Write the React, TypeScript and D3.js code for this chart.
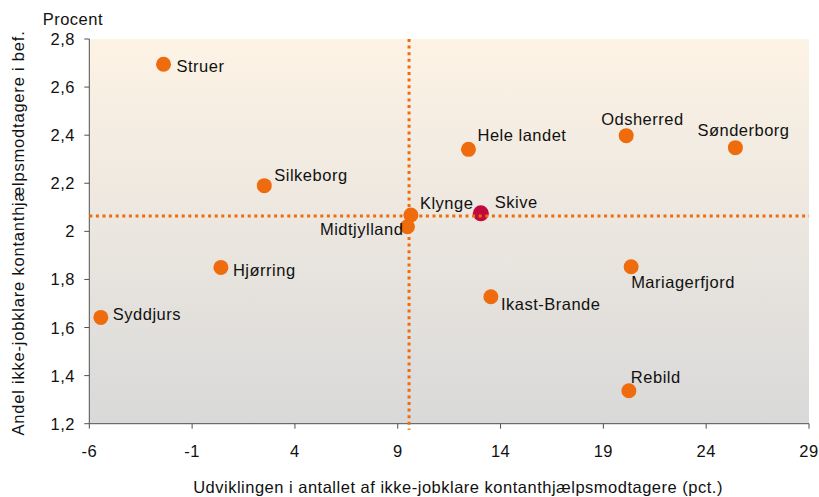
import React from 'react';
import * as d3 from 'd3';

const W = 819;
const H = 497;

// kommuner, udvikling (pct.) og andel (procent)
const names = ['Struer', 'Odsherred', 'Sønderborg', 'Hele landet', 'Silkeborg', 'Klynge', 'Skive',
  'Midtjylland', 'Hjørring', 'Mariagerfjord', 'Ikast-Brande', 'Syddjurs', 'Rebild'];
const growth = [-2.39, 20.11, 25.42, 12.44, 2.51, 9.64, 13.04, 9.47, 0.40, 20.35, 13.53, -5.44, 20.24];
const share = [2.695, 2.398, 2.348, 2.341, 2.190, 2.068, 2.075, 2.019, 1.850, 1.853, 1.728, 1.642, 1.337];

const xTicks = [-6, -1, 4, 9, 14, 19, 24, 29];
const yTicks = [1.2, 1.4, 1.6, 1.8, 2.0, 2.2, 2.4, 2.6, 2.8];

// reference lines (klyngens gennemsnit)
const refX = 9.55;
const refY = 2.064;

const highlight = 'Skive';

// label offsets from the dot: [dx, dy, anchor]
const labelPos: Record<string, [number, number, string]> = {
  'Struer': [13, 8, 'start'],
  'Odsherred': [-25, -11, 'start'],
  'Sønderborg': [-38, -12, 'start'],
  'Hele landet': [9, -8, 'start'],
  'Silkeborg': [10, -5, 'start'],
  'Klynge': [9, -6, 'start'],
  'Skive': [14, -5, 'start'],
  'Midtjylland': [-4, 8, 'end'],
  'Hjørring': [12, 9, 'start'],
  'Mariagerfjord': [0, 21, 'start'],
  'Ikast-Brande': [10, 13, 'start'],
  'Syddjurs': [12, 3, 'start'],
  'Rebild': [2, -8, 'start'],
};

const FONT = '"Liberation Sans", Arial, sans-serif';
const ORANGE = '#EF6C0E';
const RED = '#C00A3C';
const AXIS = '#505050';
const LS = 0.5;

export default function App() {
  const x = d3.scaleLinear().domain([-6, 29]).range([89.3, 809]);
  const y = d3.scaleLinear().domain([1.2, 2.8]).range([423.7, 39]);
  const [x0, x1] = x.range();
  const [y0, y1] = y.range();
  const fmt = (v: number) => d3.format('.1~f')(v).replace('.', ',');

  return (
    <div style={{ position: 'absolute', left: 0, top: 0 }}>
      <svg width={W} height={H} style={{ display: 'block', background: '#fff' }} fontFamily={FONT}>
        <defs>
          <linearGradient id="bg" x1="0" y1="0" x2="0" y2="1">
            <stop offset="0" stopColor="#FDF3E5" />
            <stop offset="1" stopColor="#D9D9D9" />
          </linearGradient>
        </defs>
        <rect x={x0} y={y1} width={x1 - x0} height={y0 - y1} fill="url(#bg)" />

        {/* axes */}
        <line x1={x0} x2={x0} y1={y1} y2={y0} stroke={AXIS} strokeWidth={1} />
        <line x1={x0} x2={x1} y1={y0} y2={y0} stroke={AXIS} strokeWidth={1} />
        {yTicks.map(t => (
          <g key={'y' + t}>
            <line x1={x0 - 5} x2={x0} y1={y(t)} y2={y(t)} stroke={AXIS} />
            <text x={75} y={y(t) + 6} textAnchor="end" fontSize={16.5} letterSpacing={LS} fill="#111">{fmt(t)}</text>
          </g>
        ))}
        {xTicks.map(t => (
          <g key={'x' + t}>
            <line x1={x(t)} x2={x(t)} y1={y0} y2={y0 + 5} stroke={AXIS} />
            <text x={x(t)} y={457} textAnchor="middle" fontSize={16.5} letterSpacing={LS} fill="#111">{t}</text>
          </g>
        ))}

        {/* dots */}
        {names.map((n, i) => (
          <circle key={n} cx={x(growth[i])} cy={y(share[i])} r={n === highlight ? 8 : 7.5}
            fill={n === highlight ? RED : ORANGE} />
        ))}

        {/* reference lines */}
        <line x1={x(refX)} x2={x(refX)} y1={y1} y2={y0 + 6} stroke={ORANGE} strokeWidth={3} strokeDasharray="3 3.6" />
        <line x1={x0} x2={x1} y1={y(refY)} y2={y(refY)} stroke={ORANGE} strokeWidth={3} strokeDasharray="3 3.6" />

        {/* labels */}
        {names.map((n, i) => {
          const [dx, dy, anchor] = labelPos[n];
          return (
            <text key={'l' + n} x={x(growth[i]) + dx} y={y(share[i]) + dy} textAnchor={anchor}
              fontSize={16.5} letterSpacing={LS} fill="#111">{n}</text>
          );
        })}

        <text x={42.7} y={25} fontSize={16.5} letterSpacing={LS} fill="#111">Procent</text>
        <text transform={`translate(24,233) rotate(-90)`} textAnchor="middle" fontSize={16.5}
          letterSpacing={0.8} fill="#111">
          Andel ikke-jobklare kontanthjælpsmodtagere i bef.
        </text>
        <text x={458} y={493} textAnchor="middle" fontSize={16.5} letterSpacing={LS} fill="#111">
          Udviklingen i antallet af ikke-jobklare kontanthjælpsmodtagere (pct.)
        </text>
      </svg>
    </div>
  );
}
